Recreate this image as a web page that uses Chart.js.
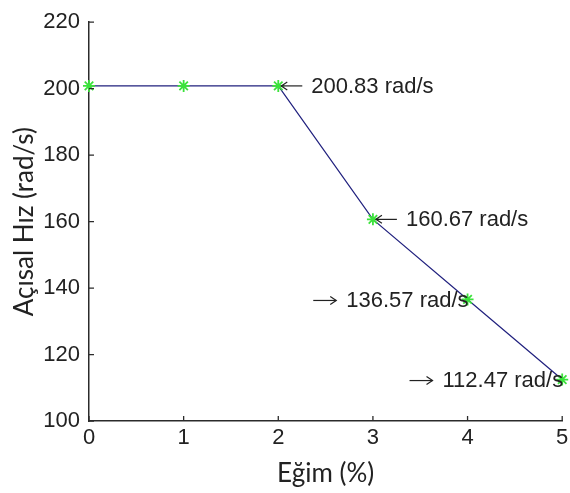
<!DOCTYPE html>
<html>
<head>
<meta charset="utf-8">
<script src="https://cdn.jsdelivr.net/npm/chart.js@4/dist/chart.umd.min.js"></script>
<style>
  html, body { margin: 0; padding: 0; background: #fff; }
  canvas { display: block; }
</style>
</head>
<body>
<canvas id="c" width="570" height="493"></canvas>
<script>
// Slope (%) against angular speed (rad/s)
const slopes = [0, 1, 2, 3, 4, 5];
const omega = [200.83, 200.83, 200.83, 160.67, 136.57, 112.47];

// Points that carry a value callout, and which side the arrow comes from
const calloutIndex = [2, 3, 4, 5];
const calloutArrow = ['left', 'left', 'right', 'right'];

const xTicks = [0, 1, 2, 3, 4, 5];
const yTicks = [100, 120, 140, 160, 180, 200, 220];

const tickFont = { family: '"Liberation Sans", Arial, sans-serif', size: 22 };
const titleFont = { family: 'Lato, "Open Sans", sans-serif', size: 26 };
const axisColor = '#2b2b2b';
const textColor = '#222';

// MATLAB-style ticks pointing into the plot area
const inwardTicks = {
  id: 'inwardTicks',
  afterDraw(chart) {
    const { ctx, chartArea, scales } = chart;
    const len = 5;
    ctx.save();
    ctx.strokeStyle = axisColor;
    ctx.lineWidth = 1.3;
    ctx.beginPath();
    scales.x.ticks.forEach(t => {
      const px = scales.x.getPixelForValue(t.value);
      ctx.moveTo(px, chartArea.bottom);
      ctx.lineTo(px, chartArea.bottom - len);
    });
    scales.y.ticks.forEach(t => {
      const py = scales.y.getPixelForValue(t.value);
      ctx.moveTo(chartArea.left, py);
      ctx.lineTo(chartArea.left + len, py);
    });
    ctx.stroke();
    ctx.restore();
  }
};

// Value callouts with small arrows, positioned from the data points
const callouts = {
  id: 'callouts',
  afterDatasetsDraw(chart) {
    const { ctx, scales } = chart;
    ctx.save();
    ctx.font = `${tickFont.size}px ${tickFont.family}`;
    ctx.fillStyle = textColor;
    ctx.strokeStyle = textColor;
    ctx.lineWidth = 1.2;
    ctx.textBaseline = 'middle';
    const head = (x, y, dir) => {
      ctx.beginPath();
      ctx.moveTo(x + dir * 6, y - 4);
      ctx.lineTo(x, y);
      ctx.lineTo(x + dir * 6, y + 4);
      ctx.stroke();
    };
    calloutIndex.forEach((i, k) => {
      const px = scales.x.getPixelForValue(slopes[i]);
      const py = scales.y.getPixelForValue(omega[i]);
      const label = omega[i].toFixed(2) + ' rad/s';
      if (calloutArrow[k] === 'left') {
        const a0 = px + 3, a1 = px + 24;
        ctx.beginPath();
        ctx.moveTo(a0, py); ctx.lineTo(a1, py); ctx.stroke();
        head(a0, py, 1);
        ctx.textAlign = 'left';
        ctx.fillText(label, px + 33, py + 1);
      } else {
        const w = ctx.measureText(label).width;
        const tx = px + 1 - w;
        const a0 = tx - 33, a1 = tx - 10;
        ctx.beginPath();
        ctx.moveTo(a0, py + 1); ctx.lineTo(a1, py + 1); ctx.stroke();
        head(a1, py + 1, -1);
        ctx.textAlign = 'left';
        ctx.fillText(label, tx, py + 1);
      }
    });
    ctx.restore();
  }
};

new Chart(document.getElementById('c'), {
  type: 'line',
  data: {
    datasets: [{
      data: slopes.map((s, i) => ({ x: s, y: omega[i] })),
      borderColor: '#20207e',
      borderWidth: 1.2,
      tension: 0,
      pointStyle: 'star',
      pointRadius: 6,
      pointBorderColor: '#3be23b',
      pointBackgroundColor: '#3be23b',
      pointBorderWidth: 1.8,
      clip: false
    }]
  },
  options: {
    responsive: false,
    animation: false,
    events: [],
    layout: { padding: { top: 17, right: 6, left: 0, bottom: 0 } },
    plugins: { legend: { display: false }, tooltip: { enabled: false } },
    scales: {
      x: {
        type: 'linear',
        min: 0, max: 5,
        afterBuildTicks: s => { s.ticks = xTicks.map(v => ({ value: v })); },
        afterFit: s => { s.height = 72; s.paddingLeft = 0; s.paddingRight = 0; },
        grid: { display: false, drawTicks: false },
        border: { display: true, color: axisColor, width: 1.5 },
        ticks: { font: tickFont, color: textColor, padding: 4, maxRotation: 0 },
        title: { display: true, text: 'Eğim (%)', font: titleFont, color: textColor, padding: { top: 0 } }
      },
      y: {
        type: 'linear',
        min: 100, max: 220,
        afterBuildTicks: s => { s.ticks = yTicks.map(v => ({ value: v })); },
        afterFit: s => { s.width = 89; },
        grid: { display: false, drawTicks: false },
        border: { display: true, color: axisColor, width: 1.5 },
        ticks: { font: tickFont, color: textColor, padding: 9 },
        title: { display: true, text: 'Açısal Hız (rad/s)', font: titleFont, color: textColor, padding: { top: 9, bottom: 0 } }
      }
    }
  },
  plugins: [inwardTicks, callouts]
});
</script>
</body>
</html>
